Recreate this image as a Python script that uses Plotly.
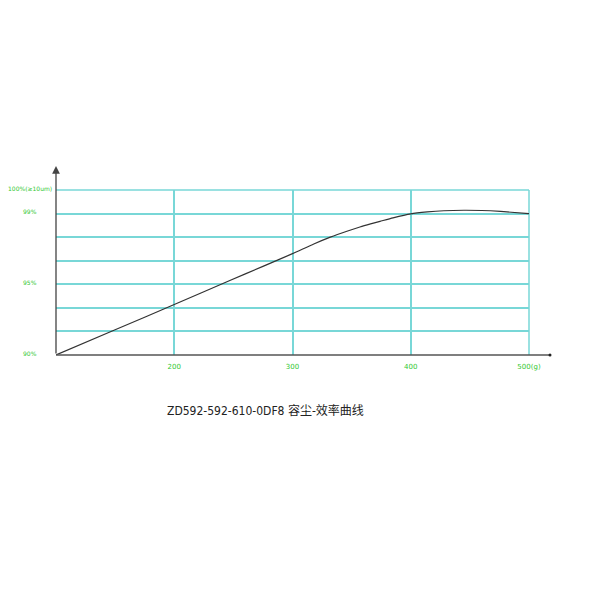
import plotly.graph_objects as go

# dust load (g) vs efficiency position (grid units: 0 = 90%, 3 = 95%, 6 = 99%, 7 = 100%)
dust_g = [100, 150, 200, 247, 275, 300, 318, 332, 346, 357, 366, 374, 385, 400, 414, 428, 445, 460, 476, 500]
eff_units = [0.0, 1.07, 2.14, 3.16, 3.76, 4.30, 4.71, 5.00, 5.25, 5.43, 5.56, 5.67, 5.82, 5.99, 6.07, 6.12, 6.14, 6.13, 6.09, 6.0]

x_ticks = [200, 300, 400, 500]
x_labels = ["200", "300", "400", "500(g)"]
y_grid = [0, 1, 2, 3, 4, 5, 6, 7]
y_label_pos = [0, 3, 6, 7]
y_labels = ["90%", "95%", "99%", "100%(≥10um)"]
title = "ZD592-592-610-0DF8 容尘-效率曲线"

grid_color = "rgb(120,215,215)"
green = "rgb(50,200,50)"

OFF = 8  # page body margin
# target plot area in the screenshot: x 56..529, y 190..355
W, H = 473, 165
L = 56 - OFF
T = 190 - OFF
B = 600 - T - H

fig = go.Figure()
fig.add_trace(go.Scatter(x=dust_g, y=eff_units, mode="lines",
                         line=dict(color="#333333", width=1.2, shape="spline", smoothing=0.6),
                         hoverinfo="skip", showlegend=False, cliponaxis=False))

annotations = []
for v, t in zip(y_label_pos, y_labels):
    annotations.append(dict(x=0, y=v, xref="paper", yref="y", text=t, showarrow=False,
                            xanchor="center", yanchor="middle", xshift=-26, yshift=2,
                            font=dict(size=6, color=green, family="DejaVu Sans")))
# y axis arrow
annotations.append(dict(x=0, y=(355 - 166) / H, xref="paper", yref="paper", text="",
                        showarrow=True, ax=0, ay=189, axref="pixel", ayref="pixel",
                        arrowhead=2, arrowsize=1.2, arrowwidth=1.3, arrowcolor="#444444"))
# title
annotations.append(dict(x=(265.5 - 56) / W, y=-(410 - 355) / H, xref="paper", yref="paper",
                        text=title, showarrow=False, xanchor="center", yanchor="middle",
                        font=dict(size=12, color="#222222",
                                  family="Liberation Sans Narrow, DejaVu Sans Condensed, Noto Sans CJK SC")))

shapes = [
    # edge grid lines (plotly omits gridlines exactly on the plot edges)
    dict(type="line", xref="paper", yref="paper", x0=0, x1=1, y0=1, y1=1, layer="below",
         line=dict(color=grid_color, width=1.5)),
    dict(type="line", xref="paper", yref="paper", x0=1, x1=1, y0=0, y1=1, layer="below",
         line=dict(color=grid_color, width=1.5)),
    # x axis with end dot
    dict(type="line", xref="paper", yref="paper", x0=0, x1=(550 - 56) / W, y0=0, y1=0,
         line=dict(color="#555555", width=1.5)),
    dict(type="circle", xref="paper", yref="paper",
         x0=(548.5 - 56) / W, x1=(551.5 - 56) / W, y0=-1.5 / H, y1=1.5 / H,
         fillcolor="#222222", line=dict(color="#222222", width=0)),
]

fig.update_layout(
    width=600, height=600, autosize=False,
    margin=dict(l=L, r=600 - L - W, t=T, b=B, pad=0),
    paper_bgcolor="white", plot_bgcolor="white",
    xaxis=dict(range=[100, 500], tickvals=x_ticks, ticktext=x_labels, showgrid=True,
               gridcolor=grid_color, gridwidth=1.5, showline=False, zeroline=False,
               ticks="", ticklabelstandoff=6,
               tickfont=dict(size=7, color=green, family="DejaVu Sans")),
    yaxis=dict(range=[0, 7], tickvals=y_grid, showticklabels=False, showgrid=True,
               gridcolor=grid_color, gridwidth=1.5, showline=False, zeroline=False, ticks=""),
    annotations=annotations, shapes=shapes, showlegend=False,
)

fig.write_html("out.html")
